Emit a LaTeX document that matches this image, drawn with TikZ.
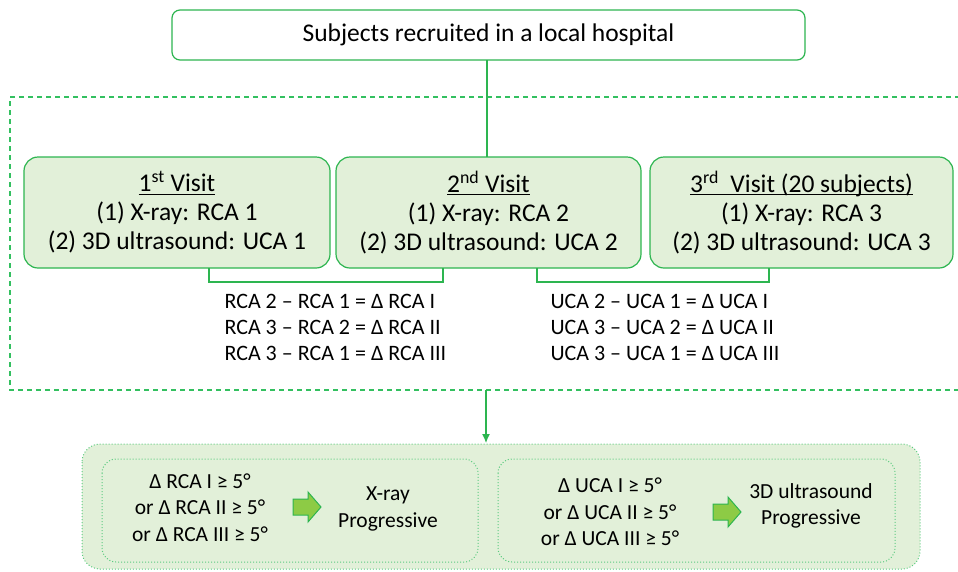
\documentclass[tikz,border=0pt]{standalone}
\usepackage{fontspec}
\setmainfont{Carlito}
\usetikzlibrary{arrows.meta}
\definecolor{gline}{HTML}{2DB550}
\definecolor{gdash}{HTML}{33C060}
\definecolor{gfill}{HTML}{E2F0D9}
\definecolor{gdot}{HTML}{5CCB80}
\definecolor{garrow}{HTML}{8DCB45}
\newcommand\ulin[1]{\setbox0\hbox{#1}\rlap{\rule[-2.8pt]{\wd0}{1.1pt}}\box0}
\begin{document}
\begin{tikzpicture}[x=1pt,y=-1pt,
  every node/.style={font=\fontsize{25.5}{29}\selectfont, text=black},
  topbox/.style={draw=gline, line width=1.2pt, rounded corners=8pt, fill=white},
  visitbox/.style={draw=gline, line width=1.2pt, rounded corners=14pt, fill=gfill},
  conn/.style={draw=gline, line width=1.4pt},
  dotbox/.style={draw=gdot, line width=1pt, dotted, rounded corners=18pt, fill=gfill},
  blockarrow/.style={draw=gline, line width=1pt, fill=garrow, line join=miter},
  difftext/.style={anchor=west, align=left, font=\fontsize{22}{26}\selectfont},
  condtext/.style={align=center, font=\fontsize{21.5}{26.5}\selectfont}
]
\useasboundingbox (0,0) rectangle (958,571);
% top box
\draw[topbox] (172,10) rectangle (805,60);
\node (top) at (488.5,35) {Subjects recruited in a local hospital};
\coordinate (topb) at (487,60);
% dashed frame (open on the right)
\draw[draw=gdash, line width=1.2pt, dash pattern=on 5pt off 4pt] (960,97) -- (10,97) -- (10,390) -- (960,390);
% visit boxes
\draw[visitbox] (24,157) rectangle (330,268);
\draw[visitbox] (336,157) rectangle (641,268);
\draw[visitbox] (650,157) rectangle (953,268);
\node[align=center] (v1) at (177,212.5) {\ulin{1\textsuperscript{st} Visit}\\(1) X-ray: RCA 1\\(2) 3D ultrasound: UCA 1};
\node[align=center] (v2) at (488.5,212.5) {\ulin{2\textsuperscript{nd} Visit}\\(1) X-ray: RCA 2\\(2) 3D ultrasound: UCA 2};
\node[align=center] (v3) at (801.5,212.5) {\ulin{3\textsuperscript{rd}\ \ Visit (20 subjects)}\\(1) X-ray: RCA 3\\(2) 3D ultrasound: UCA 3};
\coordinate (v2t) at (487,157);
\draw[conn] (topb) -- (v2t);
% brackets
\coordinate (b1a) at (209,268); \coordinate (b1b) at (443,268);
\coordinate (b2a) at (537,268); \coordinate (b2b) at (769,268);
\draw[conn] (b1a) -- (209,282) -- (443,282) -- (b1b);
\draw[conn] (b2a) -- (537,282) -- (769,282) -- (b2b);
% differences
\node[difftext] (d1) at (221,327) {RCA 2 -- RCA 1 = Δ RCA I\\RCA 3 -- RCA 2 = Δ RCA II\\RCA 3 -- RCA 1 = Δ RCA III};
\node[difftext] (d2) at (547,327) {UCA 2 -- UCA 1 = Δ UCA I\\UCA 3 -- UCA 2 = Δ UCA II\\UCA 3 -- UCA 1 = Δ UCA III};
% arrow down
\coordinate (af) at (486,390);
\coordinate (at) at (486,443);
\draw[draw=gline, line width=1.2pt, -{Latex[length=9pt,width=8pt]}] (af) -- (at);
% bottom boxes
\draw[dotbox] (82,444) rectangle (920,569);
\draw[dotbox, rounded corners=14pt] (102,459) rectangle (478,562);
\draw[dotbox, rounded corners=14pt] (498,459) rectangle (895,562);
\node[condtext] (c1) at (200,507.5) {Δ RCA I ≥ 5°\\or Δ RCA II ≥ 5°\\or Δ RCA III ≥ 5°};
\node[condtext] (r1) at (388,509) {X-ray\\Progressive};
\node[condtext] (c2) at (610,512) {Δ UCA I ≥ 5°\\or Δ UCA II ≥ 5°\\or Δ UCA III ≥ 5°};
\node[condtext] (r2) at (811,506) {3D ultrasound\\Progressive};
% block arrows
\draw[blockarrow] (293,499) -- (308,499) -- (308,492) -- (321,507) -- (308,522) -- (308,515) -- (293,515) -- cycle;
\draw[blockarrow] (713,504) -- (728,504) -- (728,497) -- (741,512) -- (728,527) -- (728,520) -- (713,520) -- cycle;
\end{tikzpicture}
\end{document}
